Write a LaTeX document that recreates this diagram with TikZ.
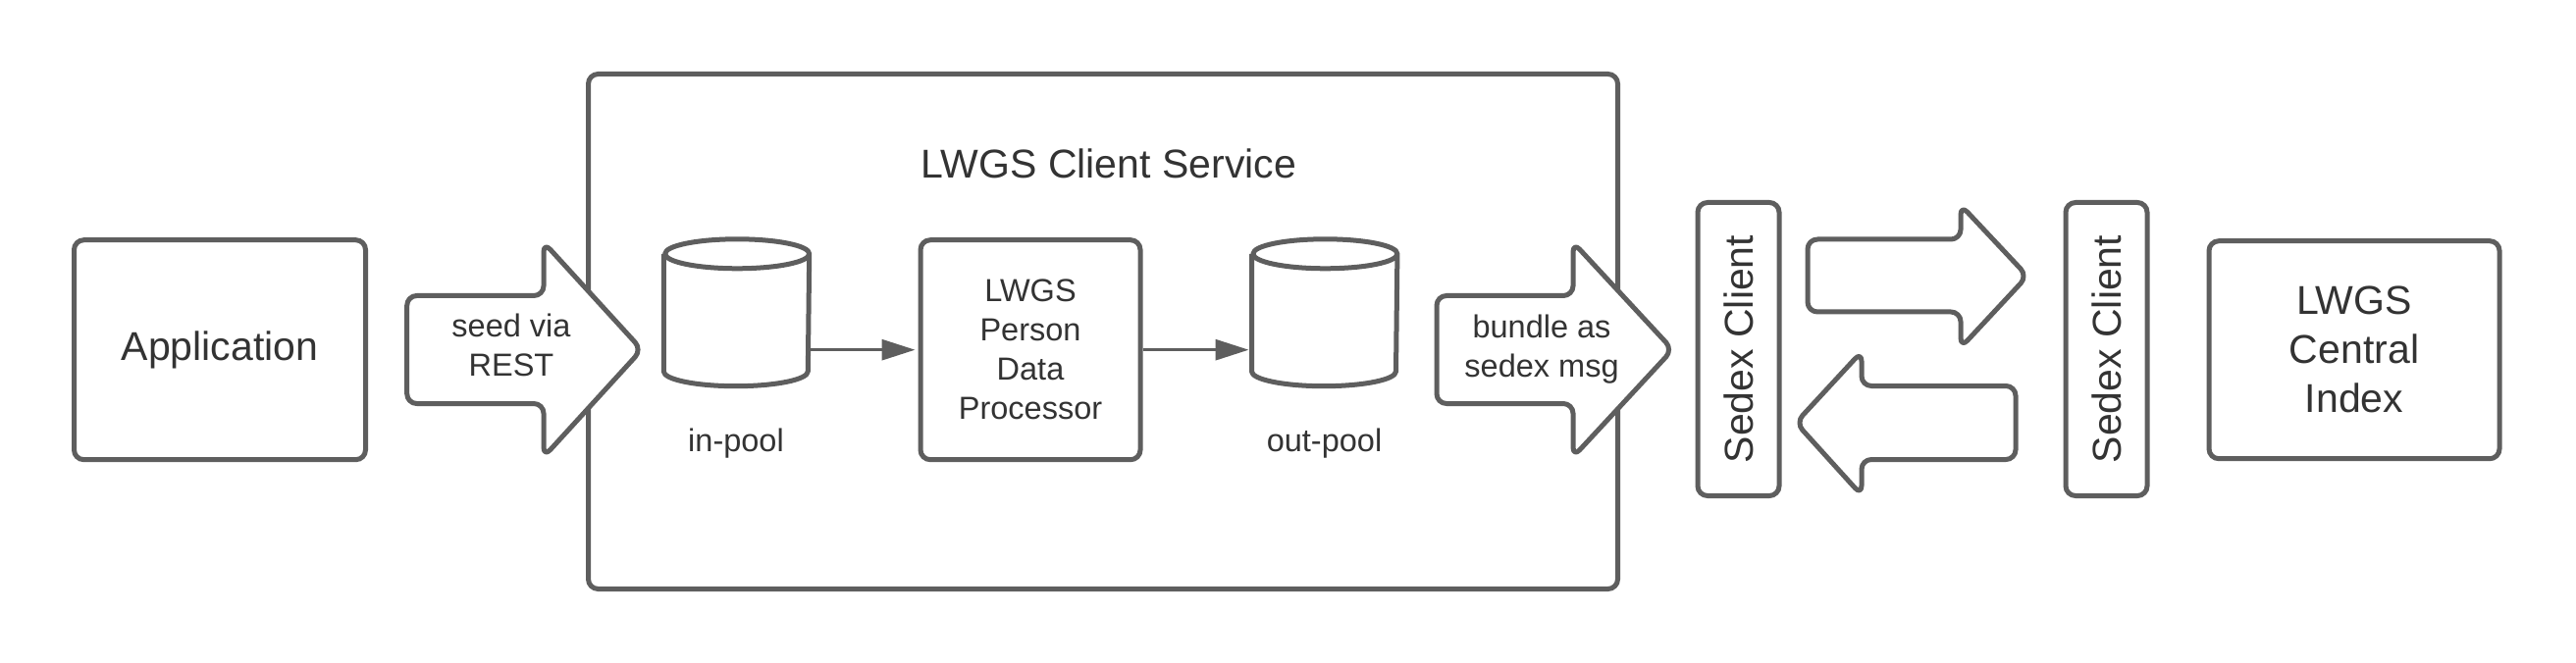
\documentclass[tikz,border=0pt]{standalone}
\usepackage{fontspec}
\setmainfont{Liberation Sans}
\usetikzlibrary{arrows.meta,calc}
\definecolor{linegray}{HTML}{5E5E5E}
\definecolor{textgray}{HTML}{333333}
\tikzset{
	box/.style={draw=linegray, line width=0.05cm, rounded corners=0.1cm, fill=white, text=textgray, align=center, inner sep=0pt},
	bigtext/.style={font=\fontsize{11.67}{14.2}\selectfont, text=textgray, align=center},
	smalltext/.style={font=\fontsize{9.25}{11.4}\selectfont, text=textgray, align=center},
	barrow/.style={draw=linegray, line width=0.05cm, rounded corners=0.1cm, fill=white, line join=round},
	poolline/.style={draw=linegray, line width=0.05cm, line join=round},
	poolbox/.style={minimum width=1.47cm, minimum height=1.485cm, inner sep=0pt},
	flow/.style={draw=linegray, line width=0.03cm, shorten >=0.03cm, -{Triangle[length=0.34cm, width=0.21cm]}}
}
\def\pool(#1)(#2){%
	\node[poolbox] (#1) at (#2) {};
	\draw[poolline] ([yshift=-0.15cm]#1.north west) -- ([yshift=0.15cm]#1.south west)
		arc[start angle=180, end angle=360, x radius=0.735cm, y radius=0.15cm]
		-- ([yshift=-0.15cm]#1.north east)
		arc[start angle=0, end angle=180, x radius=0.735cm, y radius=0.15cm]
		arc[start angle=180, end angle=360, x radius=0.735cm, y radius=0.15cm];
}

\begin{document}
\begin{tikzpicture}
			%%%%% START %%%%%
			\fill[white] (0, 0) rectangle (26.25, 6.75);
			\useasboundingbox (0, 0) rectangle (26.25, 6.75);
			
			% client service frame
			\node[box, minimum width=10.49cm, minimum height=5.25cm] (service) at (11.24, 3.37) {};
			\node[bigtext] (servicetitle) at (11.30, 5.08) {LWGS Client Service};
			
			\node[box, bigtext, minimum width=2.97cm, minimum height=2.24cm] (app) at (2.24, 3.183) {Application};
			
			\draw[barrow] (4.147, 3.735) -- (5.54, 3.735) -- (5.54, 4.28) -- (6.54, 3.185) -- (5.54, 2.09) -- (5.54, 2.635) -- (4.147, 2.635) -- cycle;
			\node[smalltext] (seedlbl) at (5.21, 3.227) {seed via\\REST};
			
			\pool(inpool)(7.505, 3.5625)
			\node[smalltext, anchor=base] (inpoollbl) at (7.50, 2.143) {in-pool};
			
			\node[box, smalltext, minimum width=2.24cm, minimum height=2.24cm] (proc) at (10.50, 3.183) {LWGS\\Person\\Data\\Processor};
			
			\pool(outpool)(13.497, 3.5625)
			\node[smalltext, anchor=base] (outpoollbl) at (13.495, 2.143) {out-pool};
			
			\draw[flow] (inpool.east |- proc.west) -- (proc.west);
			\draw[flow] (proc.east) -- (outpool.west |- proc.east);
			
			\draw[barrow] (14.64, 3.735) -- (16.03, 3.735) -- (16.03, 4.28) -- (17.045, 3.185) -- (16.03, 2.09) -- (16.03, 2.635) -- (14.64, 2.635) -- cycle;
			\node[smalltext] (bundlelbl) at (15.71, 3.193) {bundle as\\sedex msg};
			
			% sedex exchange
			\node[box, bigtext, rotate=90, minimum width=2.99cm, minimum height=0.83cm] (sedexa) at (17.715, 3.19) {Sedex Client};
			\node[box, bigtext, rotate=90, minimum width=2.99cm, minimum height=0.83cm] (sedexb) at (21.465, 3.19) {Sedex Client};
			
			\draw[barrow] (18.42, 4.31) -- (19.98, 4.31) -- (19.98, 4.66) -- (20.66, 3.935) -- (19.98, 3.205) -- (19.98, 3.57) -- (18.42, 3.57) -- cycle;
			\draw[barrow] (20.54, 2.815) -- (18.97, 2.815) -- (18.97, 3.165) -- (18.30, 2.44) -- (18.97, 1.70) -- (18.97, 2.065) -- (20.54, 2.065) -- cycle;
			
			\node[box, bigtext, minimum width=2.96cm, minimum height=2.22cm] (central) at (23.99, 3.183) {LWGS\\Central\\Index};
			
			%%%%% END %%%%%
\end{tikzpicture}
\end{document}
